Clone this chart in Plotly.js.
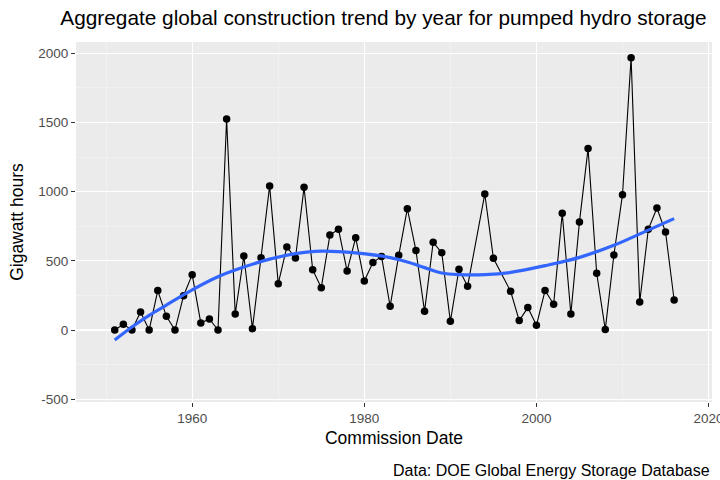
<!DOCTYPE html>
<html>
<head>
<meta charset="utf-8">
<script src="https://cdn.plot.ly/plotly-3.0.1.min.js"></script>
<style>html,body{margin:0;padding:0;background:#fff}#chart{width:720px;height:480px}</style>
</head>
<body>
<div id="chart"></div>
<script>
// Observed yearly totals (GWh)
const years = [1951,1952,1953,1954,1955,1956,1957,1958,1959,1960,
  1961,1962,1963,1964,1965,1966,1967,1968,1969,1970,
  1971,1972,1973,1974,1975,1976,1977,1978,1979,1980,
  1981,1982,1983,1984,1985,1986,1987,1988,1989,1990,
  1991,1992,1994,1995,1997,1998,1999,2000,
  2001,2002,2003,2004,2005,2006,2007,2008,2009,2010,
  2011,2012,2013,2014,2015,2016];
const gwh = [0,41,0,130,0,285,99,0,248,400,
  51,80,0,1525,116,535,10,523,1041,335,
  600,520,1031,436,306,686,728,427,667,354,
  487,532,171,540,877,574,135,634,559,63,
  439,316,983,518,280,68,162,34,
  285,186,843,116,781,1311,410,3,542,978,
  1968,202,728,882,708,217];

// Smoothed trend
const trendYears = [1951,1953,1955,1957,1960,1963,1966,1969,1972,1975,1979,1983,1985,1987,1989,1991,1994,1997,2001,2005,2009,2013,2016];
const trendVals  = [-72,22,106,180,290,385,455,512,552,570,557,523,491,451,412,400,400,416,465,525,612,722,805];

const yTickVals = [-500,0,500,1000,1500,2000];
const yTickText = ["-500","0","500","1000","1500","2000"];
const xTickVals = [1960,1980,2000,2020];

const traces = [
  {x: years, y: gwh, type: 'scatter', mode: 'lines+markers',
   line: {color: '#000000', width: 1.1},
   marker: {color: '#000000', size: 7.5},
   hoverinfo: 'x+y', showlegend: false},
  {x: trendYears, y: trendVals, type: 'scatter', mode: 'lines',
   line: {color: '#3366FF', width: 3.2, shape: 'spline', smoothing: 1},
   hoverinfo: 'skip', showlegend: false}
];

const layout = {
  width: 720, height: 480,
  margin: {l: 76, r: 8, t: 42, b: 78},
  paper_bgcolor: '#FFFFFF',
  plot_bgcolor: '#EBEBEB',
  font: {family: '"Liberation Sans", Arial, sans-serif', color: '#000000'},
  title: {text: 'Aggregate global construction trend by year for pumped hydro storage',
          font: {size: 20.8, color: '#000000'},
          xref: 'container', x: 0.5326, xanchor: 'center',
          yref: 'container', y: 0.9635, yanchor: 'middle'},
  xaxis: {
    range: [1946.5, 2020.4],
    tickvals: xTickVals, ticktext: xTickVals.map(String),
    ticklabeloverflow: 'allow',
    ticks: 'outside', ticklen: 4, tickcolor: '#333333', tickwidth: 1,
    tickfont: {size: 13.5, color: '#4D4D4D'},
    showgrid: true, gridcolor: '#FFFFFF', gridwidth: 1.2,
    minor: {dtick: 10, tick0: 1950, showgrid: true, gridcolor: '#F5F5F5', gridwidth: 0.6, ticks: ''},
    zeroline: false, showline: false,
    title: {text: 'Commission Date', font: {size: 17.5, color: '#000000'}, standoff: 6}
  },
  yaxis: {
    range: [-520, 2081],
    tickvals: yTickVals, ticktext: yTickText,
    ticks: 'outside', ticklen: 4, tickcolor: '#333333', tickwidth: 1,
    tickfont: {size: 13.5, color: '#4D4D4D'},
    showgrid: true, gridcolor: '#FFFFFF', gridwidth: 1.2,
    minor: {dtick: 250, tick0: -250, showgrid: true, gridcolor: '#F5F5F5', gridwidth: 0.6, ticks: ''},
    zeroline: false, showline: false,
    title: {text: 'Gigawatt hours', font: {size: 17.5, color: '#000000'}, standoff: 10}
  },
  annotations: [
    {text: 'Data: DOE Global Energy Storage Database', xref: 'paper', yref: 'paper',
     x: 1, y: -0.189, xanchor: 'right', yanchor: 'middle', showarrow: false,
     font: {size: 16, color: '#000000'}}
  ]
};

Plotly.newPlot('chart', traces, layout, {displayModeBar: false, staticPlot: true});
</script>
</body>
</html>
